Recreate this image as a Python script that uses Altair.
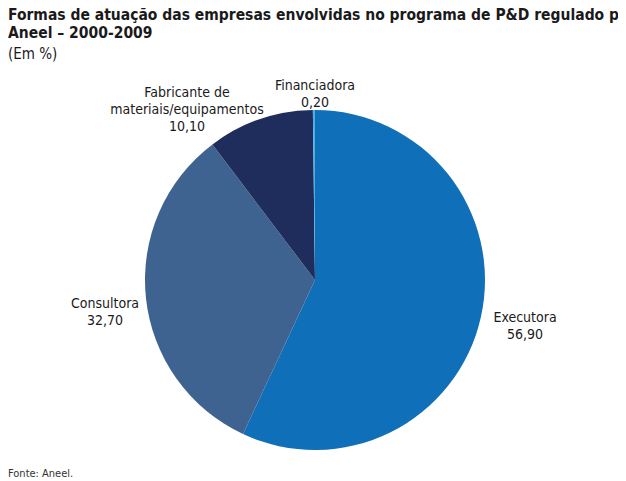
import altair as alt
import pandas as pd

categories = ["Executora", "Consultora", "Fabricante de\nmateriais/equipamentos", "Financiadora"]
values = [56.90, 32.70, 10.10, 0.20]
colors = ["#0F6FB8", "#3E6390", "#1F2D5C", "#4AB0E8"]

# label layout (chart pixel coords), style only
label_x = [517, 97, 179, 307]
label_y = [303, 289, 78, 71]

title_lines = ["Formas de atuação das empresas envolvidas no programa de P&D regulado pela", "Aneel – 2000-2009"]
subtitle = "(Em %)"
source = "Fonte: Aneel."

FONT = "'DejaVu Sans Condensed', 'Liberation Sans', sans-serif"

df = pd.DataFrame({
    "cat": categories,
    "val": values,
    "order": list(range(len(values))),
    "label": [f"{c}\n{v:.2f}".replace(".", ",") for c, v in zip(categories, values)],
})

W, H = 610, 473

pie = alt.Chart(df).mark_arc(outerRadius=170).encode(
    theta=alt.Theta("val:Q", stack=True),
    order=alt.Order("order:Q"),
    color=alt.Color("cat:N", scale=alt.Scale(domain=categories, range=colors), legend=None),
    x=alt.value(307),
    y=alt.value(272),
)

layers = [pie]
for c, lx, ly in zip(categories, label_x, label_y):
    layers.append(
        alt.Chart(df).transform_filter(alt.datum.cat == c).mark_text(
            font=FONT, fontSize=14, color="#1a1a1a", lineBreak="\n",
            align="center", baseline="top", lineHeight=17).encode(
            x=alt.value(lx), y=alt.value(ly), text="label:N")
    )

for t, ty in zip(title_lines, [0, 18]):
    layers.append(
        alt.Chart(pd.DataFrame({"t": [t]})).mark_text(
            font=FONT, fontSize=15.5, fontWeight="bold", color="#1a1a1a",
            align="left", baseline="top").encode(x=alt.value(0), y=alt.value(ty), text="t:N")
    )

layers.append(alt.Chart(pd.DataFrame({"t": [subtitle]})).mark_text(
    font=FONT, fontSize=15, color="#1a1a1a", align="left", baseline="top").encode(
    x=alt.value(0), y=alt.value(39), text="t:N"))

layers.append(alt.Chart(pd.DataFrame({"t": [source]})).mark_text(
    font=FONT, fontSize=11, color="#333333", align="left", baseline="middle").encode(
    x=alt.value(0), y=alt.value(466), text="t:N"))

chart = alt.layer(*layers).properties(
    width=W, height=H, autosize=alt.AutoSizeParams(type="none"), padding=0
).configure(background="white").configure_view(strokeWidth=0)

chart.save("out.html", embed_options={"renderer": "svg", "actions": False})
